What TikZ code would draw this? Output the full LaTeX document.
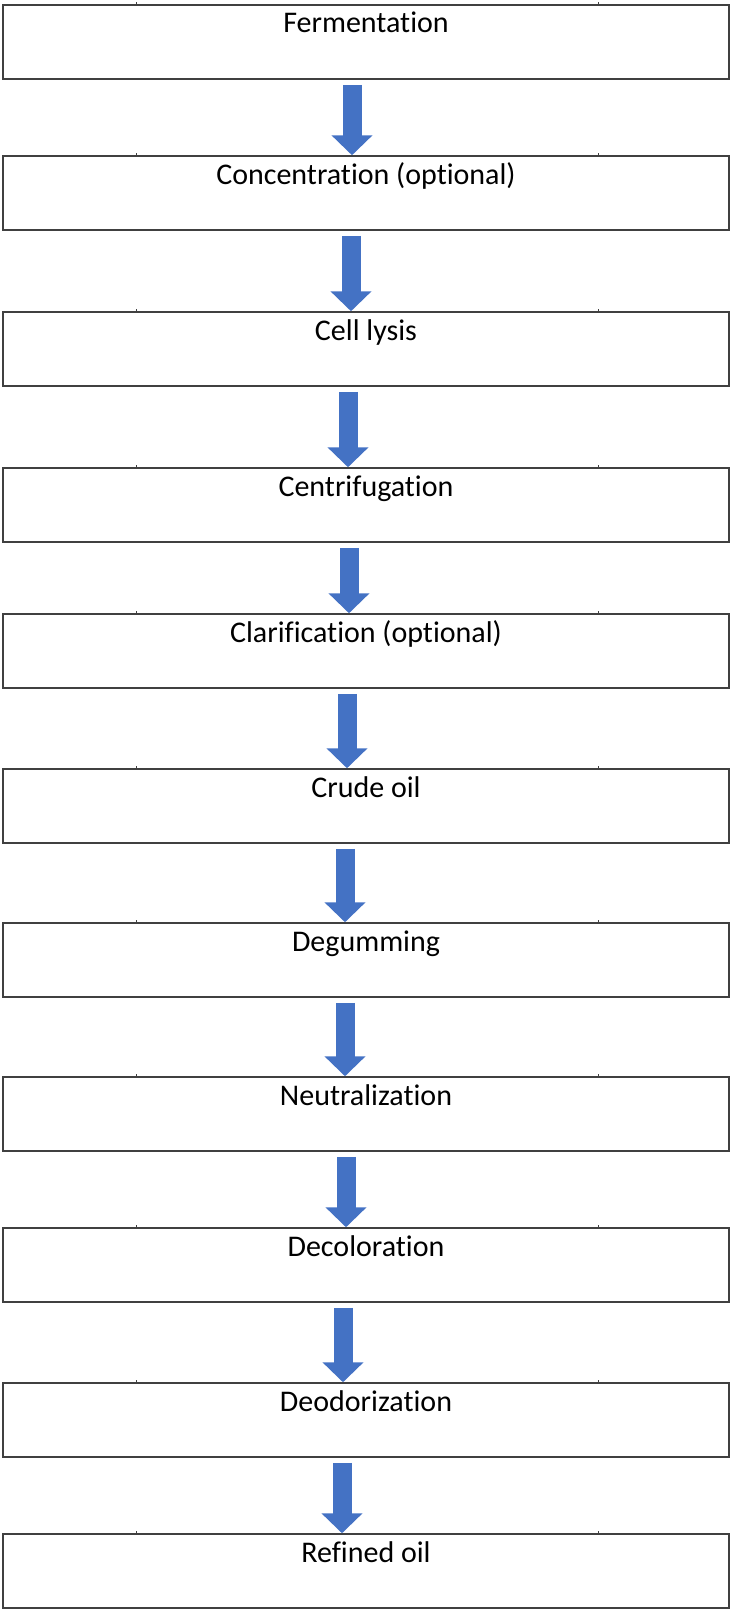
\documentclass[tikz,border=0pt]{standalone}
\usepackage{fontspec}
\setmainfont{Carlito}[Ligatures={NoCommon,NoContextual}]
\usepackage{tikz}
\usetikzlibrary{arrows.meta}
\definecolor{ArrFill}{HTML}{4472C4}
\definecolor{BoxLine}{HTML}{404040}
\begin{document}
\begin{tikzpicture}[x=1pt,y=1pt]
  \tikzstyle{mybox}=[draw=BoxLine, line width=1.5pt, inner sep=0pt,
              minimum width=726pt, text height=28pt, text depth=46pt,
              font=\fontsize{30}{36}\selectfont]
  \tikzstyle{myarr}=[line width=19pt, ArrFill, shorten <=5pt,
              -{Triangle[width=40pt,length=20pt]}]
  \tikzstyle{mytick}=[BoxLine, line width=1pt]
  \useasboundingbox (0,0) rectangle (731,-1611);
  % steps
  \node[mybox] (ferm)  at (366,-42)   {Fermentation};
  \node[mybox] (conc)  at (366,-193)  {Concentration (optional)};
  \node[mybox] (lysis) at (366,-349)  {Cell lysis};
  \node[mybox] (centr) at (366,-505)  {Centrifugation};
  \node[mybox] (clar)  at (366,-651)  {Clarification (optional)};
  \node[mybox] (crude) at (366,-806)  {Crude oil};
  \node[mybox] (degum) at (366,-960)  {Degumming};
  \node[mybox] (neutr) at (366,-1114) {Neutralization};
  \node[mybox] (decol) at (366,-1265) {Decoloration};
  \node[mybox] (deodo) at (366,-1420) {Deodorization};
  \node[mybox] (refin) at (366,-1571) {Refined oil};
  % small marks on the edges
  \foreach \n in {ferm,conc,lysis,centr,clar,crude,degum,neutr,decol,deodo,refin}
    \foreach \dx in {-230,232}
      \draw[mytick] ([xshift=\dx]\n.north) -- ++(0,2)
                    ([xshift=\dx]\n.south) -- ++(0,2);
  % arrows
  \draw[myarr] ([xshift=-14]ferm.south)  -- ([xshift=-14]conc.north);
  \draw[myarr] ([xshift=-15]conc.south)  -- ([xshift=-15]lysis.north);
  \draw[myarr] ([xshift=-18]lysis.south) -- ([xshift=-18]centr.north);
  \draw[myarr] ([xshift=-17]centr.south) -- ([xshift=-17]clar.north);
  \draw[myarr] ([xshift=-19]clar.south)  -- ([xshift=-19]crude.north);
  \draw[myarr] ([xshift=-21]crude.south) -- ([xshift=-21]degum.north);
  \draw[myarr] ([xshift=-21]degum.south) -- ([xshift=-21]neutr.north);
  \draw[myarr] ([xshift=-20]neutr.south) -- ([xshift=-20]decol.north);
  \draw[myarr] ([xshift=-23]decol.south) -- ([xshift=-23]deodo.north);
  \draw[myarr] ([xshift=-24]deodo.south) -- ([xshift=-24]refin.north);
\end{tikzpicture}
\end{document}
